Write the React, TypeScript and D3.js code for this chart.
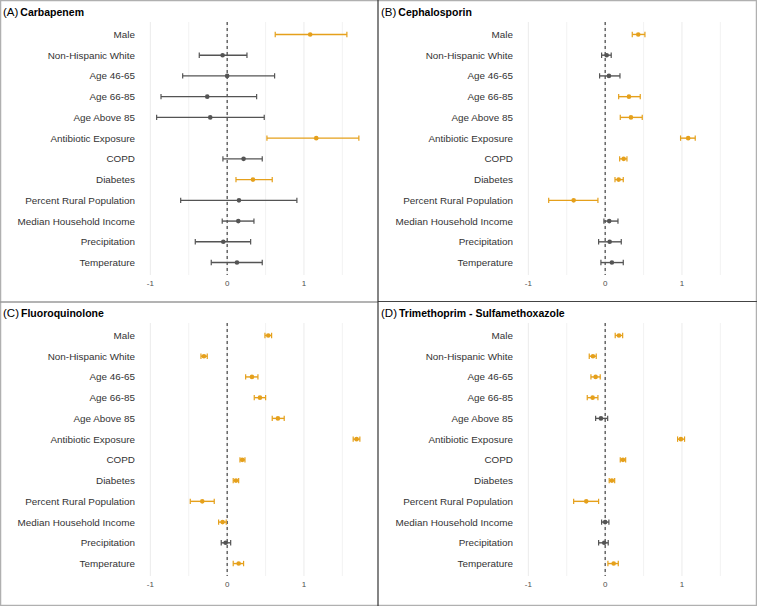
import React from "react";
import * as d3 from "d3";

const categories = [
  "Male",
  "Non-Hispanic White",
  "Age 46-65",
  "Age 66-85",
  "Age Above 85",
  "Antibiotic Exposure",
  "COPD",
  "Diabetes",
  "Percent Rural Population",
  "Median Household Income",
  "Precipitation",
  "Temperature",
];

const panelLetters = ["A", "B", "C", "D"];
const panelNames = ["Carbapenem", "Cephalosporin", "Fluoroquinolone", "Trimethoprim - Sulfamethoxazole"];

const carbapenemEst = [1.081, -0.059, 0.0, -0.259, -0.22, 1.16, 0.214, 0.336, 0.154, 0.145, -0.05, 0.128];
const carbapenemLo = [0.626, -0.363, -0.579, -0.861, -0.918, 0.518, -0.055, 0.115, -0.605, -0.064, -0.415, -0.207];
const carbapenemHi = [1.559, 0.258, 0.618, 0.384, 0.483, 1.715, 0.457, 0.587, 0.908, 0.349, 0.306, 0.457];

const cephalosporinEst = [0.431, 0.02, 0.049, 0.31, 0.336, 1.081, 0.241, 0.176, -0.41, 0.053, 0.059, 0.088];
const cephalosporinLo = [0.353, -0.046, -0.072, 0.176, 0.197, 0.982, 0.189, 0.128, -0.735, -0.016, -0.085, -0.055];
const cephalosporinHi = [0.518, 0.079, 0.193, 0.457, 0.483, 1.173, 0.284, 0.236, -0.094, 0.167, 0.21, 0.236];

const fluoroquinoloneEst = [0.535, -0.302, 0.323, 0.427, 0.661, 1.685, 0.197, 0.115, -0.324, -0.059, -0.02, 0.15];
const fluoroquinoloneLo = [0.492, -0.341, 0.241, 0.353, 0.587, 1.641, 0.167, 0.079, -0.48, -0.111, -0.077, 0.079];
const fluoroquinoloneHi = [0.579, -0.259, 0.401, 0.501, 0.743, 1.728, 0.232, 0.15, -0.168, -0.012, 0.046, 0.214];

const tmpSmxEst = [0.18, -0.159, -0.124, -0.163, -0.055, 0.986, 0.232, 0.088, -0.246, 0.0, -0.012, 0.111];
const tmpSmxLo = [0.131, -0.207, -0.185, -0.233, -0.124, 0.943, 0.197, 0.053, -0.41, -0.046, -0.085, 0.036];
const tmpSmxHi = [0.228, -0.116, -0.064, -0.094, 0.033, 1.034, 0.267, 0.124, -0.085, 0.049, 0.04, 0.171];

const majorTicks = [-1, 0, 1];
const minorTicks = [-0.5, 0.5, 1.5];

const panelEst = [carbapenemEst, cephalosporinEst, fluoroquinoloneEst, tmpSmxEst];
const panelLo = [carbapenemLo, cephalosporinLo, fluoroquinoloneLo, tmpSmxLo];
const panelHi = [carbapenemHi, cephalosporinHi, fluoroquinoloneHi, tmpSmxHi];

const W = 757;
const H = 606;
const PW = 378;
const PH = 301;
const ORANGE = "#E5A01B";
const GREY = "#545454";
const FONT = "'Liberation Sans', Arial, Helvetica, sans-serif";

function Panel({ idx }: { idx: number }) {
  const ox = (idx % 2) * PW;
  const oy = Math.floor(idx / 2) * PH;
  const x = d3.scaleLinear().domain([-1.05, 1.86]).range([146.5, 370]);
  const y = d3.scalePoint<string>().domain(categories).range([22, 275]).padding(0.6);
  const est = panelEst[idx];
  const lo = panelLo[idx];
  const hi = panelHi[idx];
  return (
    <g transform={`translate(${ox},${oy})`}>
      <text x={3} y={16} fontFamily={FONT} fill="#000">
        <tspan fontSize={11.5}>({panelLetters[idx]})</tspan>
        <tspan fontSize={10.5} fontWeight="bold" dx={2}>{panelNames[idx]}</tspan>
      </text>
      {minorTicks.map((t) => (
        <line key={"mi" + t} x1={x(t)} x2={x(t)} y1={22} y2={275} stroke="#efefef" strokeWidth={0.8} />
      ))}
      {majorTicks.map((t) => (
        <line key={"ma" + t} x1={x(t)} x2={x(t)} y1={22} y2={275} stroke="#ebebeb" strokeWidth={1} />
      ))}
      <line x1={x(0)} x2={x(0)} y1={22} y2={275} stroke="#222" strokeWidth={1} strokeDasharray="3,3" />
      {categories.map((c) => (
        <text key={c} x={135} y={y(c)} dy="0.35em" textAnchor="end" fontFamily={FONT} fontSize={9.9} fill="#333">
          {c}
        </text>
      ))}
      {majorTicks.map((t) => (
        <text key={"tl" + t} x={x(t)} y={283} dy="0.35em" textAnchor="middle" fontFamily={FONT} fontSize={8} fill="#4d4d4d">
          {t}
        </text>
      ))}
      {categories.map((c, i) => {
        const sig = lo[i] > 0 || hi[i] < 0;
        const col = sig ? ORANGE : GREY;
        const cy = y(c) as number;
        return (
          <g key={"e" + c}>
            <line x1={x(lo[i])} x2={x(hi[i])} y1={cy} y2={cy} stroke={col} strokeWidth={1.4} />
            <line x1={x(lo[i])} x2={x(lo[i])} y1={cy - 2.7} y2={cy + 2.7} stroke={col} strokeWidth={1.2} />
            <line x1={x(hi[i])} x2={x(hi[i])} y1={cy - 2.7} y2={cy + 2.7} stroke={col} strokeWidth={1.2} />
            <circle cx={x(est[i])} cy={cy} r={2.3} fill={col} />
          </g>
        );
      })}
    </g>
  );
}

export default function App() {
  return (
    <svg width={W} height={H} style={{ position: "absolute", left: 0, top: 0, background: "#fff" }}>
      <rect x={0} y={0} width={W} height={H} fill="#fff" />
      {[0, 1, 2, 3].map((i) => (
        <Panel key={i} idx={i} />
      ))}
      <rect x={0.5} y={0.5} width={W - 1} height={H - 1} fill="none" stroke="#b0b0b0" strokeWidth={1.5} />
      <line x1={0} x2={378} y1={302} y2={302} stroke="#9a9a9a" strokeWidth={1.5} />
      <line x1={378} x2={W} y1={301.5} y2={301.5} stroke="#444" strokeWidth={1.2} />
      <line x1={378} x2={378} y1={0} y2={H} stroke="#333" strokeWidth={1.2} />
    </svg>
  );
}
